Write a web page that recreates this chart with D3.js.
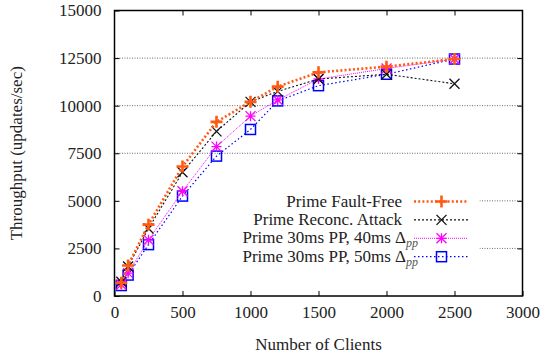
<!DOCTYPE html>
<html>
<head>
<meta charset="utf-8">
<script src="https://cdn.jsdelivr.net/npm/d3@7"></script>
<style>
  body { margin: 0; background: #fff; }
</style>
</head>
<body>
<div id="chart"></div>
<script>
const clients = [50, 100, 250, 500, 750, 1000, 1200, 1500, 2000, 2500];
const faultFree = [700, 1600, 3750, 6800, 9150, 10200, 11000, 11750, 12050, 12450];
const reconAttack = [750, 1550, 3550, 6500, 8650, 10200, 10750, 11400, 11650, 11150];
const pp40 = [600, 1200, 2950, 5500, 7850, 9450, 10300, 11400, 11950, 12450];
const pp50 = [550, 1100, 2700, 5250, 7350, 8750, 10250, 11050, 11650, 12450];
const xTicks = [0, 500, 1000, 1500, 2000, 2500, 3000];
const yTicks = [0, 2500, 5000, 7500, 10000, 12500, 15000];

const series = [
    { name: 'Prime Fault-Free', values: faultFree, color: '#ff5a14', width: 2.6, dash: '2,2.2', marker: 'plus' },
    { name: 'Prime Reconc. Attack', values: reconAttack, color: '#111', width: 1.1, dash: '2,2', marker: 'cross' },
    { name: 'Prime 30ms PP, 40ms \u0394', sub: 'pp', values: pp40, color: '#ff00ff', width: 1, dash: '1,1', marker: 'star' },
    { name: 'Prime 30ms PP, 50ms \u0394', sub: 'pp', values: pp50, color: '#0000ff', width: 1.2, dash: '1.5,2.5', marker: 'square' }
];

const FONT = '"Liberation Serif", "Times New Roman", serif';
const W = 545, H = 358;
const margin = { top: 10.5, right: 22.5, bottom: 62, left: 114.5 };
const width = W - margin.left - margin.right;
const height = H - margin.top - margin.bottom;

const svg = d3.select('#chart').append('svg')
    .attr('width', W)
    .attr('height', H);

const g = svg.append('g')
    .attr('transform', 'translate(' + margin.left + ',' + margin.top + ')');

const x = d3.scaleLinear().domain([0, 3000]).range([0, width]);
const y = d3.scaleLinear().domain([0, 15000]).range([height, 0]);

// grid lines (horizontal only)
g.append('g')
    .selectAll('line')
    .data(yTicks.slice(1, -1))
    .enter()
    .append('line')
    .attr('x1', 0)
    .attr('x2', width)
    .attr('y1', d => y(d))
    .attr('y2', d => y(d))
    .attr('stroke', '#444')
    .attr('stroke-width', 0.8)
    .attr('stroke-dasharray', '1,1.5');

// opaque legend area hides the grid behind it
g.append('rect')
    .attr('x', 1)
    .attr('y', 182)
    .attr('width', 364)
    .attr('height', 84)
    .attr('fill', '#fff');

// axes with inward ticks, mirrored
const tickLen = 5;
const xAxis = d3.axisBottom(x).tickValues(xTicks).tickSize(-tickLen).tickPadding(10).tickFormat(d3.format('d'));
const yAxis = d3.axisLeft(y).tickValues(yTicks).tickSize(-tickLen).tickPadding(13).tickFormat(d3.format('d'));

const gx = g.append('g')
    .attr('transform', 'translate(0,' + height + ')')
    .call(xAxis);
const gy = g.append('g').call(yAxis);
const gxTop = g.append('g').call(d3.axisTop(x).tickValues(xTicks.slice(1, -1)).tickSize(-tickLen).tickFormat(''));
const gyRight = g.append('g')
    .attr('transform', 'translate(' + width + ',0)')
    .call(d3.axisRight(y).tickValues(yTicks.slice(1, -1)).tickSize(-tickLen).tickFormat(''));

[gx, gy, gxTop, gyRight].forEach(a => {
    a.attr('font-family', null).attr('font-size', null);
    a.select('.domain').remove();
    a.selectAll('line').attr('stroke', '#000').attr('stroke-width', 1);
    a.selectAll('text')
        .style('font-family', FONT)
        .style('font-size', '17px')
        .attr('fill', '#222');
});

g.append('rect')
    .attr('width', width)
    .attr('height', height)
    .attr('fill', 'none')
    .attr('stroke', '#000')
    .attr('stroke-width', 1.5);

// axis titles
svg.append('text')
    .attr('x', margin.left + width / 2)
    .attr('y', 350)
    .attr('text-anchor', 'middle')
    .style('font-family', FONT)
    .style('font-size', '17px')
    .attr('fill', '#222')
    .text('Number of Clients');

svg.append('text')
    .attr('transform', 'translate(22,' + (margin.top + height / 2) + ') rotate(-90)')
    .attr('text-anchor', 'middle')
    .style('font-family', FONT)
    .style('font-size', '17px')
    .attr('fill', '#222')
    .text('Throughput (updates/sec)');

// markers
const drawMarker = (sel, type, color, cx, cy) => {
    const m = sel.append('g').attr('transform', 'translate(' + cx + ',' + cy + ')');
    const r = 5;
    if (type === 'plus') {
        m.append('path').attr('d', `M${-r - 1},0H${r + 1}M0,${-r - 1}V${r + 1}`)
            .attr('stroke', color).attr('stroke-width', 2.6).attr('fill', 'none');
    } else if (type === 'cross') {
        m.append('path').attr('d', `M${-r},${-r}L${r},${r}M${-r},${r}L${r},${-r}`)
            .attr('stroke', color).attr('stroke-width', 1.3).attr('fill', 'none');
    } else if (type === 'star') {
        m.append('path').attr('d', `M${-r},0H${r}M0,${-r}V${r}M${-r},${-r}L${r},${r}M${-r},${r}L${r},${-r}`)
            .attr('stroke', color).attr('stroke-width', 1.3).attr('fill', 'none');
    } else {
        m.append('rect').attr('x', -r).attr('y', -r).attr('width', 2 * r).attr('height', 2 * r)
            .attr('stroke', color).attr('stroke-width', 1.5).attr('fill', 'none');
    }
};

const line = d3.line()
    .x(d => x(d[0]))
    .y(d => y(d[1]));

// draw in reverse so the fault-free line is on top
series.slice().reverse().forEach(s => {
    const pts = clients.map((c, i) => [c, s.values[i]]);
    g.append('path')
        .datum(pts)
        .attr('d', line)
        .attr('fill', 'none')
        .attr('stroke', s.color)
        .attr('stroke-width', s.width)
        .attr('stroke-dasharray', s.dash);
    pts.forEach(p => drawMarker(g, s.marker, s.color, x(p[0]), y(p[1])));
});

// legend
const legend = svg.append('g');
series.forEach((s, i) => {
    const ly = 201.5 + i * 18.4;
    legend.append('text')
        .attr('x', s.sub ? 406 : 402)
        .attr('y', ly + 5)
        .attr('text-anchor', 'end')
        .style('font-family', FONT)
        .style('font-size', '17px')
        .attr('fill', '#222')
        .text(s.name);
    if (s.sub) {
        legend.append('text')
            .attr('x', 406)
            .attr('y', ly + 9)
            .style('font-family', FONT)
            .style('font-size', '12px')
            .style('font-style', 'italic')
            .attr('fill', '#555')
            .text(s.sub);
    }
    legend.append('line')
        .attr('x1', 414).attr('x2', 468)
        .attr('y1', ly).attr('y2', ly)
        .attr('stroke', s.color)
        .attr('stroke-width', s.width)
        .attr('stroke-dasharray', s.dash);
    drawMarker(legend, s.marker, s.color, 441.5, ly);
});
</script>
</body>
</html>
